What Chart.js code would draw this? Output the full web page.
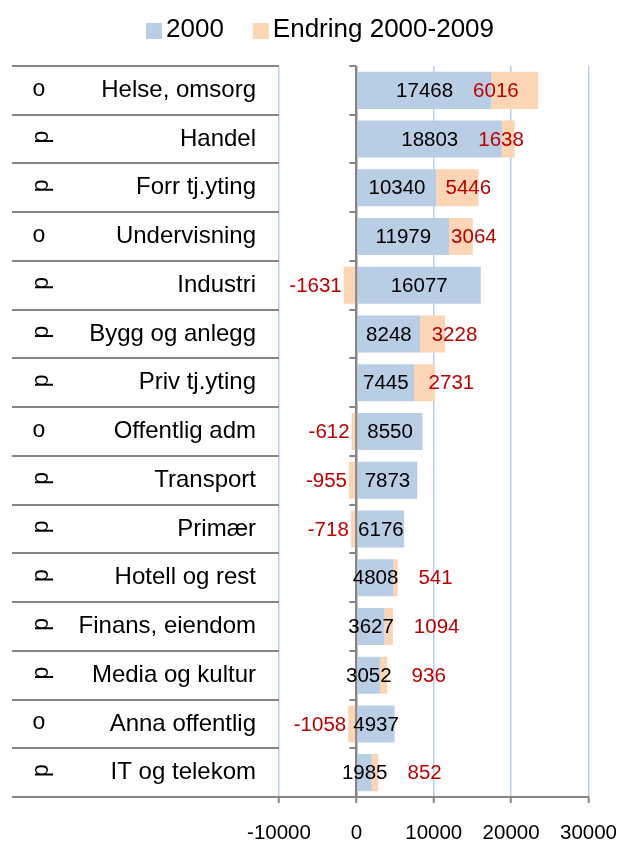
<!DOCTYPE html>
<html>
<head>
<meta charset="utf-8">
<script src="https://cdn.jsdelivr.net/npm/chart.js@4.4.0/dist/chart.umd.min.js"></script>
<style>
  html, body { margin: 0; padding: 0; background: #fff; }
  #ramme { width: 620px; height: 841px; }
</style>
</head>
<body>
<div id="ramme"><canvas id="graf"></canvas></div>
<script>
const kategorier = ['Helse, omsorg', 'Handel', 'Forr tj.yting', 'Undervisning', 'Industri',
  'Bygg og anlegg', 'Priv tj.yting', 'Offentlig adm', 'Transport', 'Primær',
  'Hotell og rest', 'Finans, eiendom', 'Media og kultur', 'Anna offentlig', 'IT og telekom']
const symboler = ['o', 'p', 'p', 'o', 'p', 'p', 'p', 'o', 'p', 'p', 'p', 'p', 'p', 'o', 'p']
const verdi2000 = [17468, 18803, 10340, 11979, 16077, 8248, 7445, 8550, 7873, 6176, 4808, 3627, 3052, 4937, 1985]
const endring = [6016, 1638, 5446, 3064, -1631, 3228, 2731, -612, -955, -718, 541, 1094, 936, -1058, 852]
const aksetall = [-10000, 0, 10000, 20000, 30000]

const skrift = '"Liberation Sans", Arial, sans-serif'
const gra = '#868686'

// tabellen til venstre, symbolene, tegnforklaring og verdiane på søylene
const tabell = {
    id: 'tabell',
    afterDatasetsDraw(chart) {
        const ctx = chart.ctx
        ctx.save()
        ctx.font = '20.5px ' + skrift
        ctx.textBaseline = 'middle'
        const hoyreKant = []
        chart.getDatasetMeta(0).data.forEach((bar, i) => {
            const tekst = String(verdi2000[i])
            const midt = (bar.x + bar.base) / 2
            ctx.fillStyle = '#000'
            ctx.textAlign = 'center'
            ctx.fillText(tekst, midt, bar.y + 1)
            hoyreKant[i] = midt + ctx.measureText(tekst).width / 2
        })
        chart.getDatasetMeta(1).data.forEach((bar, i) => {
            const v = endring[i]
            ctx.fillStyle = '#C00000'
            if (v < 0) {
                ctx.textAlign = 'right'
                ctx.fillText(String(v), Math.min(bar.x, bar.base) - 2, bar.y + 1)
            } else {
                ctx.textAlign = 'left'
                ctx.fillText(String(v), hoyreKant[i] + 20, bar.y + 1)
            }
        })
        ctx.restore()
    },
    afterDraw(chart) {
        const ctx = chart.ctx
        const a = chart.chartArea
        const x0 = chart.scales.x.getPixelForValue(0)
        const y = chart.scales.y
        const h = (a.bottom - a.top) / kategorier.length
        ctx.save()
        ctx.strokeStyle = gra
        ctx.lineWidth = 2
        for (let i = 0; i <= kategorier.length; i++) {
            const yy = Math.round(a.top + i * h)
            ctx.beginPath()
            ctx.moveTo(12, yy)
            ctx.lineTo(a.left, yy)
            ctx.moveTo(x0 - 7, yy)
            ctx.lineTo(x0, yy)
            ctx.stroke()
        }
        ctx.fillStyle = '#000'
        ctx.font = '23px ' + skrift
        ctx.textAlign = 'center'
        ctx.textBaseline = 'middle'
        symboler.forEach((s, i) => {
            const yc = y.getPixelForValue(i)
            ctx.save()
            if (s === 'p') {
                ctx.translate(42, yc - 2)
                ctx.rotate(-Math.PI / 2)
            } else {
                ctx.translate(39, yc - 1)
            }
            ctx.fillText(s, 0, 0)
            ctx.restore()
        })

        // tegnforklaring
        ctx.font = '26px ' + skrift
        ctx.textAlign = 'left'
        let lx = 146
        chart.data.datasets.forEach(ds => {
            ctx.fillStyle = ds.backgroundColor
            ctx.fillRect(lx, 23, 16, 16)
            ctx.fillStyle = '#000'
            ctx.fillText(ds.label, lx + 20, 30)
            lx += 20 + ctx.measureText(ds.label).width + 29
        })
        ctx.restore()
    }
}

new Chart(document.getElementById('graf'), {
    type: 'bar',
    data: {
        labels: kategorier,
        datasets: [{
            label: '2000',
            data: verdi2000,
            backgroundColor: '#B9CDE5',
            barPercentage: 0.76,
            categoryPercentage: 1
        }, {
            label: 'Endring 2000-2009',
            data: endring,
            backgroundColor: '#FCD5B5',
            barPercentage: 0.76,
            categoryPercentage: 1
        }]
    },
    options: {
        indexAxis: 'y',
        responsive: true,
        maintainAspectRatio: false,
        animation: false,
        layout: { padding: { left: 61, right: 31.5, top: 66, bottom: 0 } },
        plugins: {
            legend: { display: false },
            tooltip: { enabled: false }
        },
        scales: {
            x: {
                stacked: true,
                min: aksetall[0],
                max: aksetall[aksetall.length - 1],
                afterBuildTicks: (s) => { s.ticks = aksetall.map(v => ({ value: v })) },
                ticks: {
                    color: '#000',
                    font: { size: 20.5, family: skrift },
                    padding: 18,
                    maxRotation: 0,
                    callback: (v) => String(v)
                },
                grid: {
                    color: (c) => c.tick && c.tick.value === 0 ? gra : '#B9CDE5',
                    lineWidth: (c) => c.tick && c.tick.value === 0 ? 2.5 : 1.5,
                    tickColor: gra,
                    tickWidth: 2,
                    tickLength: 6
                },
                border: { color: gra, width: 2 },
                afterFit: (s) => {
                    s.height = 44
                    s.paddingLeft = 0
                    s.paddingRight = 0
                }
            },
            y: {
                stacked: true,
                grid: { display: false, drawTicks: false },
                border: { display: false },
                ticks: {
                    color: '#000',
                    font: { size: 24, family: skrift },
                    padding: 23,
                    autoSkip: false
                },
                afterFit: (s) => { s.width = 218 }
            }
        }
    },
    plugins: [tabell]
})
</script>
</body>
</html>
